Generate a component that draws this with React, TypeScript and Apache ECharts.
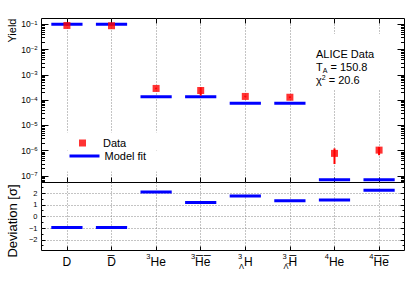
import React, { useEffect, useRef } from 'react';
import * as echarts from 'echarts';

const FONT = '"Liberation Sans", Arial, Helvetica, sans-serif';

// ---- data ----
const categories = ['D', 'anti-D', '3He', 'anti-3He', '3LH', 'anti-3LH', '4He', 'anti-4He'];
const categoryLabels = [
  '{m|D}',
  '{m|D\u0305}',
  '{p|3}{m|He}',
  '{p|3}{m|H\u0305e\u0305}',
  '{pl|3}{sl|Λ}{m|H}',
  '{pl|3}{sl|Λ\u0305}{m|H\u0305}',
  '{p|4}{m|He}',
  '{p|4}{m|H\u0305e\u0305}',
];
const dataYield = [0.09, 0.088, 2.9e-4, 2.4e-4, 1.4e-4, 1.3e-4, 7.8e-7, 1.05e-6];
const dataErrLow = [0.086, 0.084, 2.7e-4, 1.5e-4, 1.3e-4, 1.2e-4, 2.95e-7, 6.6e-7];
const dataErrHigh = [0.094, 0.092, 3.1e-4, 3.2e-4, 1.5e-4, 1.4e-4, 1.23e-6, 1.41e-6];
const modelYield = [0.1, 0.1, 1.35e-4, 1.35e-4, 7.6e-5, 7.6e-5, 7.1e-8, 7.1e-8];
const deviation = [-0.94, -0.94, 2.12, 1.2, 1.77, 1.35, 1.43, 2.26];
const yieldExponents = [-7, -6, -5, -4, -3, -2, -1];
const deviationTicks = [-2, -1, 0, 1, 2];
const experiment = 'ALICE Data';
const temperature = 150.8;
const chi2 = 20.6;

// ---- layout constants ----
const X_MIN = -0.57;
const X_MAX = 7.57;
const Y_MIN = -7.26;
const Y_MAX = -0.77;
const D_MIN = -2.92;
const D_MAX = 2.93;
const HALF = 0.35;

function buildOption() {
  const catIdx = categories.map((_, i) => i);
  const minorLog: number[] = [];
  for (let e = -8; e <= -1; e++) {
    for (let k = 2; k <= 9; k++) {
      const v = e + Math.log10(k);
      if (v > Y_MIN && v < Y_MAX) minorLog.push(v);
    }
  }
  const minorDev: number[] = [];
  for (let v = -2.5; v <= 2.5; v += 1) minorDev.push(v);

  const gridLine = { show: true, lineStyle: { color: '#888', type: [1, 2] as any, width: 1 } };
  const noLine = { show: false, onZero: false };
  const tick = (vals: number[], len: number) => ({
    show: true, inside: true, length: len, customValues: vals,
    lineStyle: { color: '#000', width: 1 },
  });

  const modelLine: any[] = [];
  modelYield.forEach((v, i) => {
    modelLine.push([i - HALF, Math.log10(v)], [i + HALF, Math.log10(v)], ['-', '-']);
  });
  const devLine: any[] = [];
  deviation.forEach((v, i) => {
    devLine.push([i - HALF, v], [i + HALF, v], ['-', '-']);
  });
  const dataPts = dataYield.map((v, i) => [i, Math.log10(v)]);
  const errPts = dataYield.map((_, i) => [i, Math.log10(dataErrLow[i]), Math.log10(dataErrHigh[i])]);

  const yAxisBase = (gridIndex: number, min: number, max: number, position: string) => ({
    type: 'value', gridIndex, min, max, position,
    axisLine: noLine, splitLine: { show: false }, axisLabel: { show: false },
  });

  const legendText = { fontSize: 11, color: '#000', fontFamily: FONT };

  return {
    animation: false,
    backgroundColor: '#fff',
    textStyle: { fontFamily: FONT },
    grid: [
      { left: 41.5, right: 10.5, top: 18.5, height: 164, show: true, borderColor: '#000', borderWidth: 1, backgroundColor: 'transparent' },
      { left: 41.5, right: 10.5, top: 182.5, height: 68, show: true, borderColor: '#000', borderWidth: 1, backgroundColor: 'transparent' },
    ],
    xAxis: [
      { type: 'value', gridIndex: 0, min: X_MIN, max: X_MAX, position: 'bottom', axisLine: noLine,
        axisLabel: { show: false }, axisTick: tick(catIdx, 5), splitLine: gridLine },
      { type: 'value', gridIndex: 0, min: X_MIN, max: X_MAX, position: 'top', axisLine: noLine,
        axisLabel: { show: false }, axisTick: tick(catIdx, 5), splitLine: { show: false } },
      { type: 'value', gridIndex: 1, min: X_MIN, max: X_MAX, position: 'bottom', axisLine: noLine,
        axisTick: tick(catIdx, 4), splitLine: gridLine,
        axisLabel: {
          show: true, customValues: catIdx, margin: 2, color: '#000', fontFamily: FONT,
          formatter: (v: number) => categoryLabels[Math.round(v)] ?? '',
          rich: {
            m: { fontSize: 12, lineHeight: 18, verticalAlign: 'middle', fontFamily: FONT, color: '#000' },
            p: { fontSize: 7.5, lineHeight: 8, verticalAlign: 'top', fontFamily: FONT, color: '#000' },
            pl: { fontSize: 7.5, lineHeight: 8, verticalAlign: 'top', align: 'left', width: 1, fontFamily: FONT, color: '#000' },
            sl: { fontSize: 7.5, lineHeight: 11, verticalAlign: 'bottom', align: 'left', fontFamily: FONT, color: '#000' },
          },
        } },
    ],
    yAxis: [
      { ...yAxisBase(0, Y_MIN, Y_MAX, 'left'), axisTick: tick(yieldExponents, 7),
        axisLabel: {
          show: true, customValues: yieldExponents, margin: 4, color: '#000', fontFamily: FONT, lineHeight: 11,
          formatter: (v: number) => `{b|10}{s|${v < 0 ? '\u2212' + Math.abs(v) : v}}`,
          rich: {
            b: { fontSize: 8.5, lineHeight: 9, verticalAlign: 'bottom', fontFamily: FONT, color: '#000' },
            s: { fontSize: 6, lineHeight: 7, verticalAlign: 'top', fontFamily: FONT, color: '#000' },
          },
        } },
      { ...yAxisBase(0, Y_MIN, Y_MAX, 'left'), axisTick: tick(minorLog, 3.5) },
      { ...yAxisBase(0, Y_MIN, Y_MAX, 'right'), axisTick: tick(yieldExponents, 7) },
      { ...yAxisBase(0, Y_MIN, Y_MAX, 'right'), axisTick: tick(minorLog, 3.5) },
      { ...yAxisBase(1, D_MIN, D_MAX, 'left'), axisTick: tick(deviationTicks, 4), splitLine: gridLine,
        axisLabel: {
          show: true, customValues: deviationTicks, margin: 4, color: '#000', fontFamily: FONT, fontSize: 7.5,
          formatter: (v: number) => (v < 0 ? '\u2212' + Math.abs(v) : String(v)),
        } },
      { ...yAxisBase(1, D_MIN, D_MAX, 'left'), axisTick: tick(minorDev, 2) },
      { ...yAxisBase(1, D_MIN, D_MAX, 'right'), axisTick: tick(deviationTicks, 4) },
      { ...yAxisBase(1, D_MIN, D_MAX, 'right'), axisTick: tick(minorDev, 2) },
    ],
    legend: [
      {
        data: [{ name: 'Data' }],
        orient: 'vertical', left: 58, top: 132.5, padding: [5, 37, 1, 21],
        backgroundColor: '#fff', itemWidth: 7, itemHeight: 7, itemGap: 0,
        textStyle: { ...legendText, padding: [0, 0, 0, 12] }, selectedMode: false,
      },
      {
        data: [{ name: 'Model fit', itemStyle: { color: 'rgba(0,0,0,0)', borderColor: 'rgba(0,0,0,0)', borderWidth: 0 } }],
        orient: 'vertical', left: 58, top: 150.5, padding: [0, 14, 10, 10],
        backgroundColor: '#fff', itemWidth: 30, itemHeight: 7, itemGap: 0,
        textStyle: legendText, lineStyle: { width: 3 }, selectedMode: false,
      },
    ],
    title: {
      text: `${experiment}\n{t|T}{sub|A}{t| = ${temperature}}\n{t|\u03c7}{sup|2}{t| = ${chi2}}`,
      left: 312, top: 34, padding: [13.5, 6, 3, 4], backgroundColor: '#fff',
      textStyle: {
        fontSize: 11, fontWeight: 'normal', color: '#000', lineHeight: 13, fontFamily: FONT,
        rich: {
          t: { fontSize: 11, lineHeight: 13, color: '#000', fontFamily: FONT },
          sub: { fontSize: 7, lineHeight: 8, verticalAlign: 'bottom', color: '#000', fontFamily: FONT },
          sup: { fontSize: 7, lineHeight: 8, verticalAlign: 'top', color: '#000', fontFamily: FONT },
        },
      },
    },
    graphic: [
      { type: 'text', x: 12, y: 18.5, rotation: Math.PI / 2, silent: true,
        style: { text: 'Yield', fontSize: 11, fill: '#000', align: 'right', verticalAlign: 'middle', fontFamily: FONT } },
      { type: 'text', x: 12.5, y: 221, rotation: Math.PI / 2, silent: true,
        style: { text: 'Deviation [\u03c3]', fontSize: 13, fill: '#000', align: 'center', verticalAlign: 'middle', fontFamily: FONT } },
    ],
    series: [
      { name: 'Model fit', type: 'line', xAxisIndex: 0, yAxisIndex: 0, data: modelLine, symbol: 'none',
        connectNulls: false, color: '#0000ff', lineStyle: { color: '#0000ff', width: 3 }, z: 3, silent: true },
      { name: 'err', type: 'custom', xAxisIndex: 0, yAxisIndex: 0, data: errPts, z: 4, silent: true,
        encode: { x: 0, y: [1, 2] },
        renderItem: (params: any, api: any) => {
          const p1 = api.coord([api.value(0), api.value(1)]);
          const p2 = api.coord([api.value(0), api.value(2)]);
          return { type: 'line', shape: { x1: p1[0], y1: p1[1], x2: p2[0], y2: p2[1] },
            style: { stroke: '#ff0000', lineWidth: 2 } };
        } },
      { name: 'Data', type: 'scatter', xAxisIndex: 0, yAxisIndex: 0, data: dataPts, symbol: 'rect',
        symbolSize: 7, color: '#ff0000', itemStyle: { color: '#ff0000' }, z: 5, silent: true },
      { name: 'Deviation', type: 'line', xAxisIndex: 2, yAxisIndex: 4, data: devLine, symbol: 'none',
        connectNulls: false, color: '#0000ff', lineStyle: { color: '#0000ff', width: 3 }, z: 3, silent: true },
    ],
  };
}

export default function App() {
  const ref = useRef<HTMLDivElement>(null);
  useEffect(() => {
    const chart = echarts.init(ref.current!, null, { renderer: 'svg' });
    chart.setOption(buildOption() as any);
    return () => chart.dispose();
  }, []);
  return (
    <div
      ref={ref}
      style={{ position: 'fixed', left: 0, top: 0, width: 415, height: 281, background: '#fff' }}
    />
  );
}
